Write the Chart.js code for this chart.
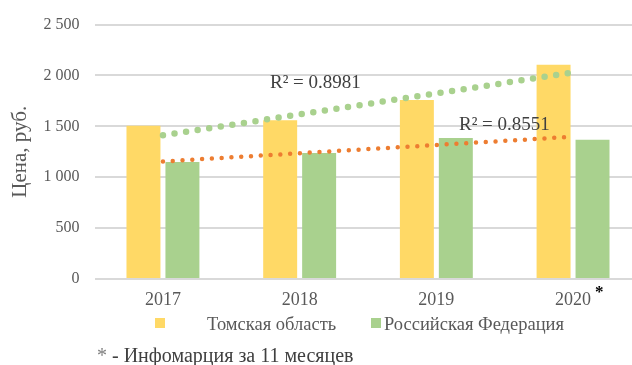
<!DOCTYPE html>
<html lang="ru">
<head>
<meta charset="utf-8">
<script src="https://cdn.jsdelivr.net/npm/chart.js@4"></script>
<style>
  html, body { margin: 0; padding: 0; background: #fff; overflow: hidden; }
  body { width: 632px; height: 365px; position: relative; font-family: "Liberation Serif", "Times New Roman", serif; }
  #box { position: absolute; left: 0; top: 0; width: 650px; height: 365px; }
  .sq { position: absolute; width: 10px; height: 10px; }
  .txt { position: absolute; color: #595959; font-size: 18.5px; line-height: 20px; white-space: nowrap; }
</style>
</head>
<body>
<div id="box"><canvas id="grafico"></canvas></div>

<div class="sq" style="left:155px; top:318px; background:#ffd966"></div>
<div class="txt" style="left:207px; top:314px">Томская область</div>
<div class="sq" style="left:371px; top:318px; background:#a9d18e"></div>
<div class="txt" style="left:384px; top:314px">Российская Федерация</div>
<div class="txt" style="left:97px; top:345px; font-size:20px; color:#404040"><span style="color:#7f7f7f">*</span> - Инфомарция за 11 месяцев</div>

<script>
const anos = ["2017", "2018", "2019", "2020"];
const tomsk = [1505, 1560, 1760, 2105];
const russia = [1150, 1237, 1385, 1368];
// линии тренда: только начало и конец
const trendTomsk = [1412, null, null, 2030];
const trendRussia = [1155, null, null, 1398];
const r2Tomsk = "R² = 0.8981";
const r2Russia = "R² = 0.8551";
const yTicks = [0, 500, 1000, 1500, 2000, 2500];

const serif = "'Liberation Serif', 'Times New Roman', serif";

function formatar(v) {
  if (v < 1000) return String(v);
  return Math.floor(v / 1000) + " " + String(v % 1000).padStart(3, "0");
}

// подписи R² и звёздочка у 2020
const extras = {
  id: "extras",
  afterDatasetsDraw(chart) {
    const ctx = chart.ctx;
    const x = chart.scales.x;
    ctx.save();
    ctx.font = "19px " + serif;
    ctx.fillStyle = "#404040";
    ctx.textBaseline = "middle";
    ctx.fillText(r2Tomsk, 270, 83);
    ctx.fillText(r2Russia, 459, 125);
    ctx.font = "bold 17px " + serif;
    ctx.fillStyle = "#000";
    ctx.fillText("*", x.getPixelForValue(3) + 22, 293);
    ctx.restore();
  }
};

const ctx = document.getElementById("grafico").getContext("2d");
new Chart(ctx, {
  data: {
    labels: anos,
    datasets: [
      {
        type: "line",
        data: trendTomsk,
        spanGaps: true,
        borderColor: "#a9d18e",
        borderWidth: 6.5,
        borderDash: [0, 11.7],
        borderCapStyle: "round",
        pointRadius: 0,
        order: 0
      },
      {
        type: "line",
        data: trendRussia,
        spanGaps: true,
        borderColor: "#ed7d31",
        borderWidth: 4.5,
        borderDash: [0, 9.8],
        borderCapStyle: "round",
        pointRadius: 0,
        order: 0
      },
      {
        type: "bar",
        label: "Томская область",
        data: tomsk,
        backgroundColor: "#ffd966",
        barPercentage: 0.872,
        categoryPercentage: 0.57,
        order: 1
      },
      {
        type: "bar",
        label: "Российская Федерация",
        data: russia,
        backgroundColor: "#a9d18e",
        barPercentage: 0.872,
        categoryPercentage: 0.57,
        order: 1
      }
    ]
  },
  options: {
    responsive: true,
    maintainAspectRatio: false,
    animation: false,
    layout: { padding: { top: 19, right: 8.6, left: 0, bottom: 0 } },
    plugins: {
      legend: { display: false },
      tooltip: { enabled: false }
    },
    scales: {
      x: {
        grid: { display: false, drawTicks: false },
        border: { display: false },
        ticks: { color: "#595959", font: { family: serif, size: 18 }, padding: 10 },
        afterFit: s => { s.height = 86; }
      },
      y: {
        min: 0,
        max: 2500,
        afterBuildTicks: s => { s.ticks = yTicks.map(v => ({ value: v })); },
        grid: { color: "#d9d9d9", lineWidth: 2, drawTicks: false },
        border: { display: false },
        ticks: {
          color: "#595959",
          font: { family: serif, size: 16 },
          padding: 15,
          callback: v => formatar(v)
        },
        title: {
          display: true,
          text: "Цена, руб.",
          color: "#595959",
          font: { family: serif, size: 21 },
          padding: { top: 8, bottom: 0 }
        },
        afterFit: s => { s.width = 94.6; }
      }
    }
  },
  plugins: [extras]
});
</script>
</body>
</html>
